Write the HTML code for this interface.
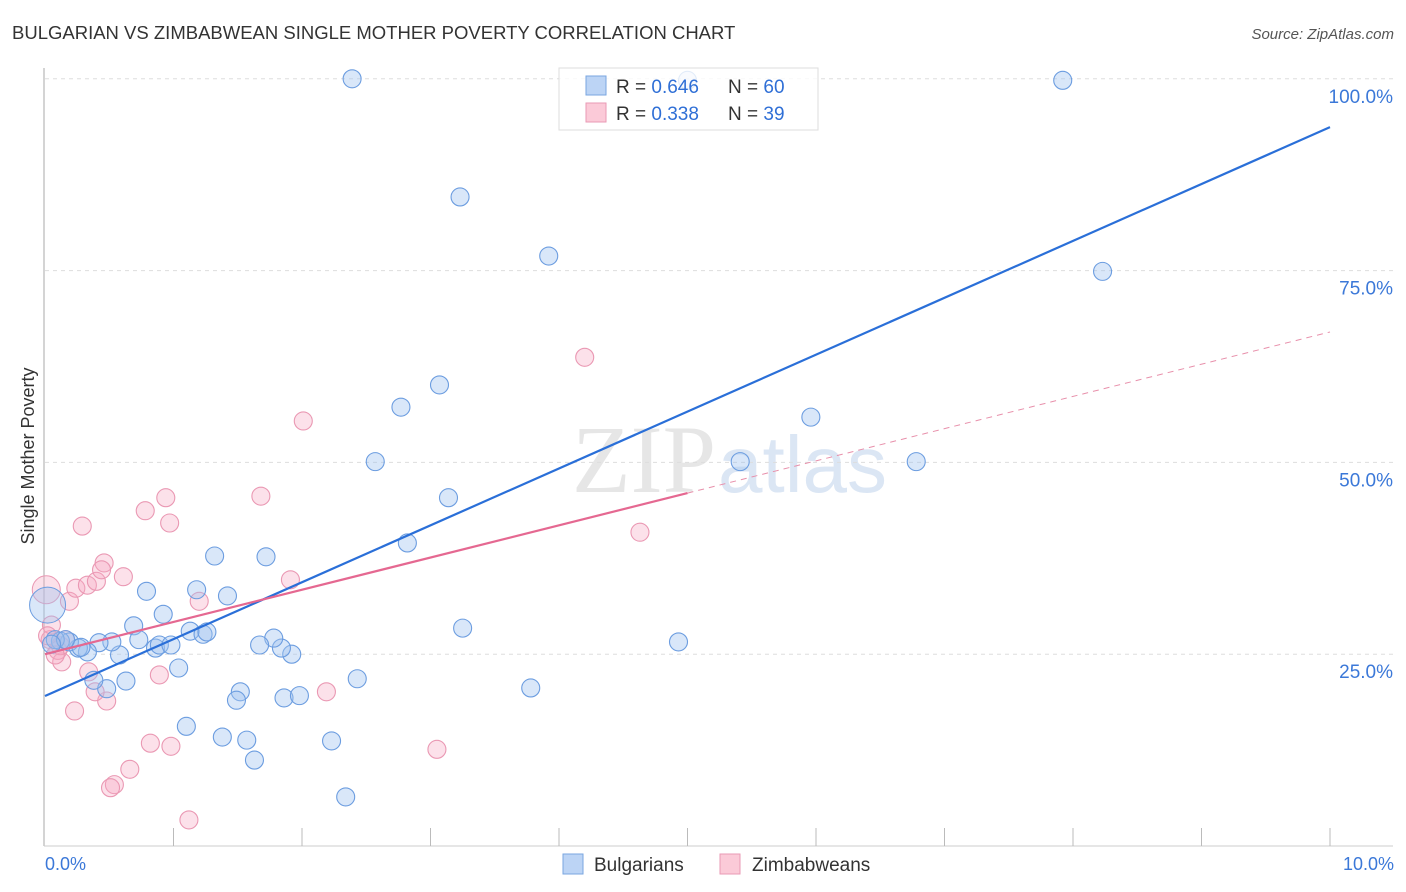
<!DOCTYPE html>
<html><head><meta charset="utf-8"><style>
body{margin:0;background:#fff;font-family:"Liberation Sans",sans-serif;}
svg{display:block}
</style></head><body>
<svg id="chart" width="1406" height="892">
<text x="12" y="39" font-size="18.5" fill="#333">BULGARIAN VS ZIMBABWEAN SINGLE MOTHER POVERTY CORRELATION CHART</text>
<text x="1394" y="39" font-size="15" fill="#555" font-style="italic" text-anchor="end">Source: ZipAtlas.com</text>
<text x="716" y="492" font-size="96" fill="#e6e6e6" font-family="Liberation Serif,serif" text-anchor="end">ZIP</text>
<text x="718" y="492" font-size="80" fill="#dbe6f4">atlas</text>
<g id="grid"></g>
<g id="axes"></g>
<g id="pts"></g>
<g id="lines"></g>
<text x="34" y="456" font-size="18" fill="#333" text-anchor="middle" transform="rotate(-90 34 456)">Single Mother Poverty</text>
<g>
<rect x="559" y="68" width="259" height="62" fill="#fff" fill-opacity="0.8" stroke="#ddd"/>
<rect x="586" y="76" width="20" height="19" fill="#bcd4f5" stroke="#7aa6e0"/>
<rect x="586" y="103" width="20" height="19" fill="#fbcad8" stroke="#ea9ab5"/>
<text x="616" y="93" font-size="19" fill="#333">R = <tspan fill="#2f6fd6">0.646</tspan><tspan x="728">N = </tspan><tspan fill="#2f6fd6">60</tspan></text>
<text x="616" y="120" font-size="19" fill="#333">R = <tspan fill="#2f6fd6"> 0.338</tspan><tspan x="728">N = </tspan><tspan fill="#2f6fd6"> 39</tspan></text>
</g>
<g>
<rect x="563" y="854" width="20" height="20" fill="#bcd4f5" stroke="#7aa6e0"/>
<text x="594" y="871" font-size="19" fill="#333">Bulgarians</text>
<rect x="720" y="854" width="20" height="20" fill="#fbcad8" stroke="#ea9ab5"/>
<text x="752" y="871" font-size="19" fill="#333">Zimbabweans</text>
</g>
</svg>
<script>
const xTicksLabels=["0.0%","10.0%"];
const yTickValues=[25,50,75,100];
const yTickLabels=["25.0%","50.0%","75.0%","100.0%"];
const blueX=[2.39,3.23,3.92,7.92,8.23,5.00,2.77,3.07,2.57,3.14,2.82,5.41,5.96,6.78,3.25,4.93,3.78,2.43,2.34,2.23,1.63,1.57,1.38,1.10,1.52,1.49,1.86,1.98,1.92,1.84,1.78,1.67,1.72,1.32,1.18,1.42,0.92,0.79,0.69,0.73,0.86,0.89,0.98,1.04,1.13,1.23,1.26,0.63,0.48,0.38,0.58,0.52,0.42,0.33,0.26,0.19,0.12,0.08,0.28,0.16,0.05];
const blueY=[100.0,84.6,76.9,99.8,74.9,99.8,57.2,60.1,50.1,45.4,39.5,50.1,55.9,50.1,28.4,26.6,20.6,21.8,6.4,13.7,11.2,13.8,14.2,15.6,20.1,19.0,19.3,19.6,25.0,25.8,27.1,26.2,37.7,37.8,33.4,32.6,30.2,33.2,28.7,26.9,25.8,26.2,26.2,23.2,28.0,27.6,27.9,21.5,20.5,21.6,24.9,26.6,26.5,25.3,25.8,26.6,26.7,26.9,25.9,26.9,26.3];
const pinkX=[0.29,0.19,0.24,0.33,0.40,0.46,0.44,0.61,0.78,0.94,0.97,1.20,1.68,2.01,1.91,4.20,4.63,3.05,2.19,0.89,0.98,0.82,0.66,0.54,0.51,1.12,0.48,0.39,0.34,0.23,0.13,0.10,0.04,0.05,0.12,0.16,0.02,0.08];
const pinkY=[41.7,31.9,33.6,34.0,34.5,36.9,36.0,35.1,43.7,45.4,42.1,31.9,45.6,55.4,34.7,63.7,40.9,12.6,20.1,22.3,13.0,13.4,10.0,8.0,7.6,3.4,18.9,20.1,22.7,17.6,24.0,25.5,26.9,28.8,26.1,26.9,27.4,24.9];
const blueFit=[19.55,93.7];
const pinkFit=[25.0,67.0];
const pinkSolidEnd=5.0;
const X=v=>45+v*128.5, Y=v=>846-v*7.672;
const NS="http://www.w3.org/2000/svg";
function mk(tag,attrs,parent){const e=document.createElementNS(NS,tag);for(const k in attrs)e.setAttribute(k,attrs[k]);document.getElementById(parent).appendChild(e);return e;}
yTickValues.forEach((v,i)=>{
 const l=mk('line',{x1:45,x2:1393,y1:Y(v),y2:Y(v),stroke:'#ddd','stroke-dasharray':'4,4'},'grid');
 
 
 const t=mk('text',{x:1393,y:Y(v)+24,'font-size':19,fill:'#3b78d8','text-anchor':'end'},'grid');
 t.textContent=yTickLabels[i];
 
 
});
const ax=mk('line',{x1:44,x2:44,y1:68,y2:846,stroke:'#aaa'},'axes');


const bx=mk('line',{x1:44,x2:1393,y1:846,y2:846,stroke:'#ccc'},'axes');


for(let i=1;i<=10;i++){
 const t=mk('line',{x1:X(i),x2:X(i),y1:828,y2:846,stroke:'#bbb'},'axes');
 
 
}
[[0,'start',45],[10,'end',1394]].forEach(([v,a,px],i)=>{
 const t=mk('text',{x:px,y:870,'font-size':18,fill:'#3b78d8','text-anchor':a},'axes');
 t.textContent=xTicksLabels[i];
 
 
});
pinkX.forEach((x,i)=>{
 const c=mk('circle',{cx:X(x),cy:Y(pinkY[i]),r:9,fill:'rgba(246,170,196,0.35)',stroke:'#ea98b3','stroke-width':1.1},'pts');
 
 
});
const pb=mk('circle',{cx:X(0.01),cy:Y(33.4),r:14,fill:'rgba(246,170,196,0.35)',stroke:'#ea98b3'},'pts');


blueX.forEach((x,i)=>{
 const c=mk('circle',{cx:X(x),cy:Y(blueY[i]),r:9,fill:'rgba(160,196,240,0.4)',stroke:'#6c9de0','stroke-width':1.1},'pts');
 
 
});
const bb=mk('circle',{cx:X(0.02),cy:Y(31.4),r:18,fill:'rgba(160,196,240,0.4)',stroke:'#6c9de0'},'pts');


const bl=mk('line',{x1:X(0),y1:Y(blueFit[0]),x2:X(10),y2:Y(blueFit[1]),stroke:'#2a6fd8','stroke-width':2.2},'lines');


const pe=pinkFit[0]+(pinkFit[1]-pinkFit[0])*pinkSolidEnd/10;
const pl=mk('line',{x1:X(0),y1:Y(pinkFit[0]),x2:X(pinkSolidEnd),y2:Y(pe),stroke:'#e56891','stroke-width':2.2},'lines');


const pd=mk('line',{x1:X(pinkSolidEnd),y1:Y(pe),x2:X(10),y2:Y(pinkFit[1]),stroke:'#e890ab','stroke-width':1,'stroke-dasharray':'6,5'},'lines');


</script>
</body></html>
